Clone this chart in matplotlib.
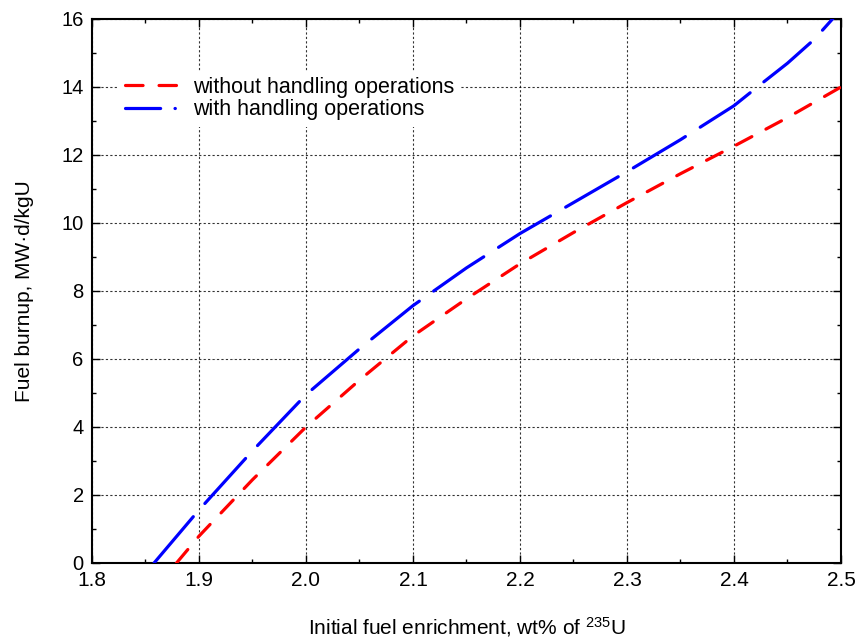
import matplotlib
matplotlib.use("Agg")
import matplotlib.pyplot as plt
from matplotlib.lines import Line2D
from matplotlib.ticker import MultipleLocator

x_red = [1.879, 1.9, 1.95, 2.0, 2.05, 2.1, 2.15, 2.2, 2.25, 2.3, 2.35, 2.4, 2.45, 2.5]
y_red = [0, 0.79, 2.45, 4.0, 5.38, 6.68, 7.77, 8.80, 9.72, 10.6, 11.45, 12.26, 13.1, 14.0]
x_blue = [1.858, 1.9, 1.95, 2.0, 2.05, 2.1, 2.15, 2.2, 2.25, 2.3, 2.35, 2.4, 2.425, 2.45, 2.475, 2.5]
y_blue = [0, 1.56, 3.30, 4.95, 6.30, 7.57, 8.68, 9.69, 10.6, 11.51, 12.45, 13.45, 14.08, 14.7, 15.4, 16.28]
label_red = "without handling operations"
label_blue = "with handling operations"
xticks = [1.8, 1.9, 2.0, 2.1, 2.2, 2.3, 2.4, 2.5]
yticks = [0, 2, 4, 6, 8, 10, 12, 14, 16]

plt.rcParams['font.family'] = ['Liberation Sans', 'DejaVu Sans']
plt.rcParams['mathtext.fontset'] = 'custom'
plt.rcParams['mathtext.rm'] = 'Liberation Sans'
plt.rcParams['mathtext.it'] = 'Liberation Sans:italic'

fig = plt.figure(figsize=(8.61, 6.43), dpi=100)
ax = fig.add_axes([92/861, 80/643, (841-92)/861, (563-19)/643])

lw = 2.3
ax.plot(x_red, y_red, color='#ff0000', lw=lw, dashes=(5.5, 5.0), dash_capstyle='round', zorder=3)
ax.plot(x_blue, y_blue, color='#0000ff', lw=lw, dashes=(19, 5.5), dash_capstyle='round', zorder=3)

ax.set_xlim(1.8, 2.5)
ax.set_ylim(0, 16)
ax.set_xticks(xticks)
ax.set_xticklabels([f"{v:.1f}" for v in xticks], fontsize=15)
ax.set_yticks(yticks)
ax.set_yticklabels([str(v) for v in yticks], fontsize=14.5)
ax.xaxis.set_minor_locator(MultipleLocator(0.05))
ax.yaxis.set_minor_locator(MultipleLocator(1))
ax.tick_params(which='both', direction='in', top=True, right=True, width=1)
ax.tick_params(which='major', length=6, pad=6)
ax.tick_params(which='minor', length=3)
ax.grid(True, which='major', color='black', linestyle=(0, (2, 2)), linewidth=0.8, alpha=0.8)
for s in ax.spines.values():
    s.set_linewidth(1.5)

ax.set_xlabel("Initial fuel enrichment, wt% of $\\mathregular{^{235}}$U", fontsize=15, labelpad=18)
ax.set_ylabel("Fuel burnup, MW\u00b7d/kgU", fontsize=15, labelpad=20)

h_red = Line2D([], [], color='#ff0000', lw=lw, dashes=(5.5, 5.0), dash_capstyle='round')
h_blue = Line2D([], [], color='#0000ff', lw=lw, dashes=(11, 4.5, 0.1, 4.5), dash_capstyle='round')
leg = ax.legend([h_red, h_blue], [label_red, label_blue], loc='upper left',
                bbox_to_anchor=(0.021, 0.925), frameon=True, fancybox=False,
                edgecolor='none', facecolor='white', framealpha=1,
                fontsize=15.5, handlelength=2.35, handletextpad=0.8, labelspacing=0.05,
                borderpad=0.3)

fig.savefig("out.png", dpi=100)
